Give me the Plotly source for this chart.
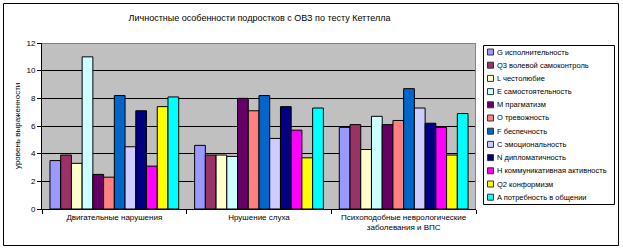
import plotly.graph_objects as go

categories = ["Двигательные нарушения", "Нрушение слуха",
              "Психоподобные неврологические<br>заболевания и ВПС"]

series_names = ["G исполнительность", "Q3 волевой самоконтроль", "L честолюбие",
                "E самостоятельность", "M прагматизм", "O тревожность",
                "F беспечность", "C эмоциональность", "N дипломатичность",
                "H коммуникативная активность", "Q2 конформизм",
                "A потребность в общении"]

series_colors = ["#9999FF", "#993366", "#FFFFCC", "#CCFFFF", "#660066", "#FF8080",
                 "#0066CC", "#CCCCFF", "#000080", "#FF00FF", "#FFFF00", "#00FFFF"]

values_motor = [3.5, 3.9, 3.3, 11.0, 2.5, 2.3, 8.2, 4.5, 7.1, 3.1, 7.4, 8.1]
values_hearing = [4.6, 3.9, 3.9, 3.8, 8.0, 7.1, 8.2, 5.1, 7.4, 5.7, 3.7, 7.3]
values_neuro = [5.9, 6.1, 4.3, 6.7, 6.1, 6.4, 8.7, 7.3, 6.2, 5.9, 3.9, 6.9]

y_ticks = [0, 2, 4, 6, 8, 10, 12]
title_text = "Личностные особенности подростков с ОВЗ по тесту Кеттелла"
y_title = "уровень выраженности"

W, H = 623, 250
L, R, T, B = 42, 147, 43, 41
PW, PH = W - L - R, H - T - B

def px(x):
    return (x - L) / PW

def py(y):
    return (H - B - y) / PH

FONT = "Liberation Sans, Arial, sans-serif"

fig = go.Figure()
for i, name in enumerate(series_names):
    vals = [values_motor[i], values_hearing[i], values_neuro[i]]
    fig.add_trace(go.Bar(x=categories, y=vals, name=name,
                         marker=dict(color=series_colors[i],
                                     line=dict(color="black", width=1))))

shapes = []
annotations = []
# outer border
shapes.append(dict(type="rect", xref="paper", yref="paper",
                   x0=px(3.5), x1=px(618.5), y0=py(245.5), y1=py(3.5),
                   line=dict(color="black", width=1), layer="below"))
# plot-area gray border (top & right)
shapes.append(dict(type="path", xref="paper", yref="paper",
                   path=f"M {px(42)} {py(43.5)} L {px(475.5)} {py(43.5)} L {px(475.5)} {py(209)}",
                   line=dict(color="#808080", width=1), layer="above"))
# legend box
shapes.append(dict(type="rect", xref="paper", yref="paper",
                   x0=px(483.5), x1=px(614.5), y0=py(204.5), y1=py(45.5),
                   fillcolor="white", line=dict(color="black", width=1), layer="below"))
for i, name in enumerate(series_names):
    yc = 52 + i * 13.2
    shapes.append(dict(type="rect", xref="paper", yref="paper",
                       x0=px(487.5), x1=px(493.5), y0=py(yc + 3), y1=py(yc - 3),
                       fillcolor=series_colors[i], line=dict(color="#333333", width=1),
                       layer="above"))
    annotations.append(dict(xref="paper", yref="paper", x=px(495), y=py(yc),
                            xanchor="left", yanchor="middle", showarrow=False,
                            text=name, font=dict(size=7.5, color="black", family=FONT)))

annotations.append(dict(xref="paper", yref="paper", x=px(17), y=py(126),
                        xanchor="center", yanchor="middle", showarrow=False,
                        textangle=-90, text=y_title,
                        font=dict(size=8, color="black", family=FONT)))

fig.update_layout(
    width=W, height=H,
    margin=dict(l=L, r=R, t=T, b=B, pad=0),
    paper_bgcolor="white", plot_bgcolor="#C0C0C0",
    barmode="group", bargap=0.11, bargroupgap=0,
    showlegend=False,
    title=dict(text=title_text, x=px(259.5), xref="paper", xanchor="center",
               y=1 - 18 / H, yanchor="middle",
               font=dict(size=9, color="black", family=FONT)),
    font=dict(family=FONT, size=8, color="black"),
    shapes=shapes, annotations=annotations,
    xaxis=dict(showline=True, linecolor="black", linewidth=1,
               ticks="outside", tickson="boundaries", ticklen=4, tickcolor="black",
               showgrid=False, tickfont=dict(size=8, family=FONT)),
    yaxis=dict(range=[0, 12], tickvals=y_ticks, showline=True, linecolor="black",
               linewidth=1, ticks="outside", ticklen=4, tickcolor="black",
               showgrid=True, gridcolor="black", gridwidth=1, zeroline=False,
               tickfont=dict(size=8, family=FONT)),
)

fig.write_html("out.html", config={"displayModeBar": False},
               post_script="document.body.style.margin='0';document.body.style.overflow='hidden';")
